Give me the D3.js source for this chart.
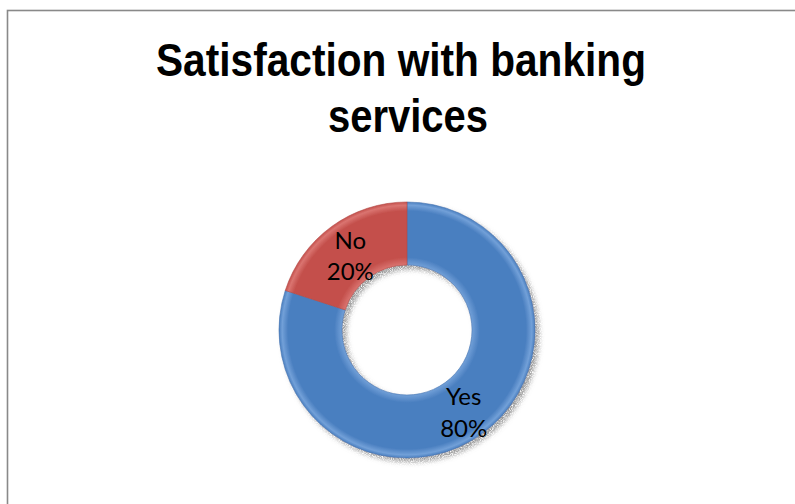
<!DOCTYPE html>
<html>
<head>
<meta charset="utf-8">
<script src="https://cdn.jsdelivr.net/npm/d3@7"></script>
<style>
  html, body { margin: 0; padding: 0; background: #fff; }
  svg { display: block; }
</style>
</head>
<body>
<svg id="chart" width="795" height="504"></svg>
<script>
// Survey answers and their shares (percent)
const categories = ["Yes", "No"];
const values = [80, 20];
const titleLines = ["Satisfaction with banking", "services"];

const baseColors = { Yes: "#4a7fc0", No: "#c4504c" };
const lightColors = { Yes: "#72a0d8", No: "#da7470" };

const width = 795, height = 504;
const cx = 407, cy = 330;
const outerR = 128, innerR = 65;

const svg = d3.select("#chart");
const defs = svg.append("defs");

// Chart frame
svg.append("rect")
  .attr("x", 7.5).attr("y", 10.5)
  .attr("width", width + 20).attr("height", height + 20)
  .attr("fill", "#fff")
  .attr("stroke", "#898989")
  .attr("stroke-width", 1.6);

// Title
const title = svg.append("g")
  .attr("font-family", "'Liberation Sans Narrow', 'Arial Narrow', 'Liberation Sans', Arial, sans-serif")
  .attr("font-weight", "bold")
  .attr("font-size", 47)
  .attr("fill", "#000")
  .attr("text-anchor", "middle");
title.append("text").attr("x", 401).attr("y", 76)
  .attr("textLength", 490).attr("lengthAdjust", "spacingAndGlyphs")
  .text(titleLines[0]);
title.append("text").attr("x", 408).attr("y", 132)
  .attr("textLength", 160).attr("lengthAdjust", "spacingAndGlyphs")
  .text(titleLines[1]);

// Grainy drop shadow
const f = defs.append("filter").attr("id", "shadow")
  .attr("x", "-20%").attr("y", "-20%").attr("width", "140%").attr("height", "140%");
f.append("feGaussianBlur").attr("in", "SourceAlpha").attr("stdDeviation", 2.8).attr("result", "blur");
f.append("feOffset").attr("in", "blur").attr("dx", 4).attr("dy", 4).attr("result", "off");
f.append("feTurbulence").attr("type", "fractalNoise").attr("baseFrequency", 1.1)
  .attr("numOctaves", 1).attr("seed", 3).attr("result", "noise");
f.append("feColorMatrix").attr("in", "noise").attr("type", "matrix")
  .attr("values", "0 0 0 0 0.3  0 0 0 0 0.3  0 0 0 0 0.3  0 0 0 2.6 -0.55")
  .attr("result", "grain");
f.append("feComposite").attr("in", "grain").attr("in2", "off").attr("operator", "in").attr("result", "shadowGrain");
const merge = f.append("feMerge");
merge.append("feMergeNode").attr("in", "shadowGrain");
merge.append("feMergeNode").attr("in", "SourceGraphic");

// Soft bevel shading per slice
categories.forEach(c => {
  const g = defs.append("radialGradient").attr("id", "grad-" + c)
    .attr("gradientUnits", "userSpaceOnUse")
    .attr("cx", 0).attr("cy", 0).attr("r", outerR);
  const i0 = innerR / outerR;
  [[i0, lightColors[c]], [i0 + 0.06, baseColors[c]], [0.93, baseColors[c]], [0.975, lightColors[c]], [1, baseColors[c]]]
    .forEach(([o, col]) => g.append("stop").attr("offset", o).attr("stop-color", col));
});

const data = categories.map((c, i) => ({ category: c, value: values[i] }));
const pie = d3.pie().sort(null).value(d => d.value);
const arc = d3.arc().innerRadius(innerR).outerRadius(outerR);

const donut = svg.append("g")
  .attr("transform", `translate(${cx},${cy})`);

const slices = donut.append("g").attr("filter", "url(#shadow)");
slices.selectAll("path")
  .data(pie(data))
  .join("path")
  .attr("d", arc)
  .attr("fill", d => `url(#grad-${d.data.category})`)
  .attr("stroke", d => d3.color(baseColors[d.data.category]).darker(0.25))
  .attr("stroke-width", 0.6);

// Category and percentage labels at slice centroids
const labels = donut.append("g")
  .attr("font-family", "Lato, 'Open Sans', sans-serif")
  .attr("font-size", 24)
  .attr("fill", "#000")
  .attr("text-anchor", "middle");
labels.selectAll("g")
  .data(pie(data))
  .join("g")
  .each(function(d) {
    const [x, y] = arc.centroid(d);
    const g = d3.select(this);
    g.append("text").attr("x", x).attr("y", y - 3).text(d.data.category);
    g.append("text").attr("x", x).attr("y", y + 28.5).text(d.data.value + "%");
  });
</script>
</body>
</html>
